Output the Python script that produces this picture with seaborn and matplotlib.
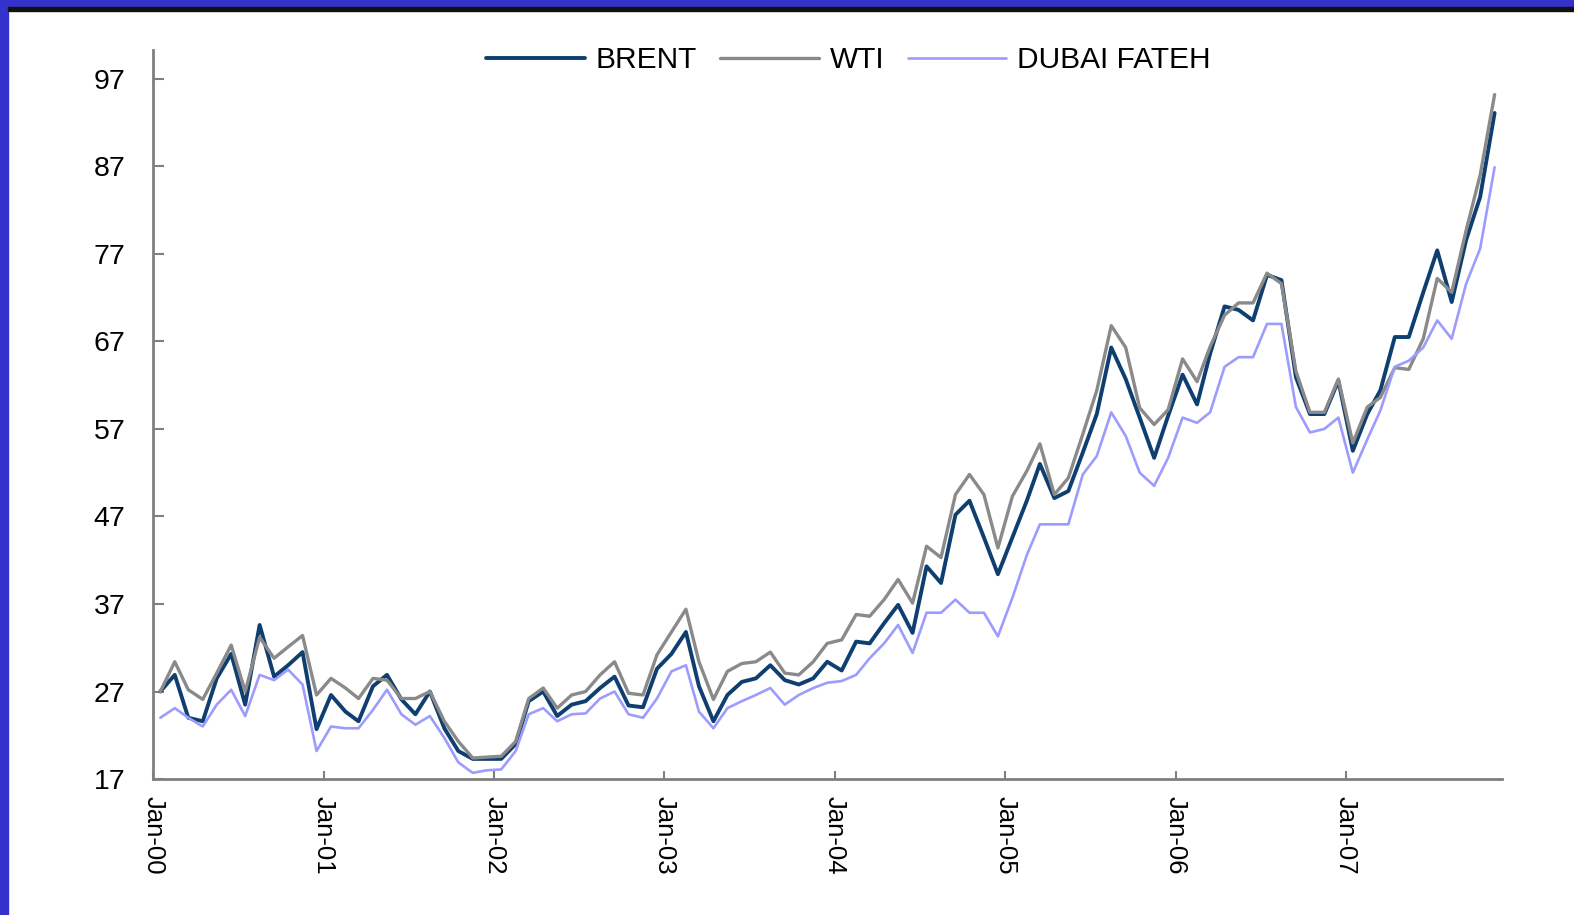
import pandas as pd
import numpy as np
import matplotlib.pyplot as plt
import matplotlib.dates as mdates
from matplotlib.patches import Rectangle
import seaborn as sns

# monthly prices, Jan-2000 .. Nov-2007
months = pd.date_range('2000-01-01', periods=95, freq='MS') + pd.Timedelta(days=15)

brent = [27.0, 28.9, 24.0, 23.6, 28.5, 31.3, 25.5, 34.6, 28.7, 30.0, 31.5, 22.7,
         26.6, 24.7, 23.6, 27.6, 28.9, 26.1, 24.4, 27.0, 22.8, 20.2, 19.3, 19.3,
         19.3, 21.0, 25.9, 27.0, 24.2, 25.5, 25.9, 27.4, 28.7, 25.4, 25.2, 29.6,
         31.3, 33.8, 27.6, 23.6, 26.6, 28.1, 28.5, 30.0, 28.3, 27.8, 28.5, 30.4,
         29.4, 32.7, 32.5, 34.8, 36.9, 33.7, 41.3, 39.4, 47.2, 48.8, 44.6, 40.4,
         44.6, 48.8, 53.0, 49.1, 49.9, 54.3, 58.7, 66.3, 62.7, 58.3, 53.7, 58.5,
         63.2, 59.8, 65.6, 71.0, 70.6, 69.4, 74.6, 74.0, 62.9, 58.7, 58.7, 62.5,
         54.5, 58.7, 61.4, 67.5, 67.5, 72.6, 77.4, 71.5, 78.6, 83.5, 93.1]

wti = [27.0, 30.4, 27.2, 26.1, 29.1, 32.3, 27.0, 33.2, 30.8, 32.1, 33.4, 26.6,
       28.5, 27.4, 26.2, 28.5, 28.3, 26.2, 26.2, 27.0, 23.6, 21.3, 19.4, 19.5,
       19.6, 21.3, 26.2, 27.4, 25.1, 26.6, 27.0, 28.9, 30.4, 26.8, 26.6, 31.2,
       33.8, 36.4, 30.4, 26.1, 29.3, 30.2, 30.4, 31.5, 29.1, 28.9, 30.4, 32.5,
       32.9, 35.8, 35.6, 37.5, 39.8, 37.1, 43.6, 42.3, 49.5, 51.8, 49.5, 43.4,
       49.3, 52.2, 55.3, 49.5, 51.4, 56.4, 61.4, 68.8, 66.3, 59.4, 57.5, 59.2,
       65.0, 62.4, 66.4, 70.0, 71.4, 71.4, 74.8, 73.6, 63.6, 58.9, 58.9, 62.7,
       55.4, 59.5, 60.6, 64.0, 63.8, 67.3, 74.2, 72.6, 79.7, 86.0, 95.2]

dubai = [24.0, 25.1, 24.0, 23.0, 25.5, 27.2, 24.2, 28.9, 28.3, 29.5, 27.8, 20.2,
         23.0, 22.8, 22.8, 24.9, 27.2, 24.4, 23.2, 24.2, 21.7, 18.9, 17.7, 18.0,
         18.1, 20.2, 24.4, 25.1, 23.6, 24.4, 24.5, 26.2, 27.0, 24.4, 24.0, 26.2,
         29.3, 30.0, 24.7, 22.8, 25.1, 25.9, 26.6, 27.4, 25.5, 26.6, 27.4, 28.0,
         28.2, 28.9, 30.8, 32.5, 34.6, 31.4, 36.0, 36.0, 37.5, 36.0, 36.0, 33.3,
         37.7, 42.6, 46.1, 46.1, 46.1, 51.8, 53.9, 58.9, 56.2, 52.0, 50.5, 53.7,
         58.3, 57.7, 58.9, 64.1, 65.2, 65.2, 69.0, 69.0, 59.5, 56.6, 57.0, 58.3,
         52.0, 55.8, 59.1, 64.1, 64.8, 66.3, 69.4, 67.3, 73.6, 77.6, 86.9]

series_names = ['BRENT', 'WTI', 'DUBAI FATEH']
colors = {'BRENT': '#0E3F70', 'WTI': '#8A8A8A', 'DUBAI FATEH': '#9C9CFF'}
widths = {'BRENT': 2.8, 'WTI': 2.4, 'DUBAI FATEH': 1.9}
yticks = [17, 27, 37, 47, 57, 67, 77, 87, 97]

df = pd.DataFrame({'Month': months, 'BRENT': brent, 'WTI': wti, 'DUBAI FATEH': dubai})
df_long = df.melt(id_vars='Month', var_name='Crude', value_name='Price')

sns.set_theme(style="white")
plt.rcParams['font.family'] = ['Liberation Sans', 'DejaVu Sans']
plt.rcParams['text.color'] = 'black'
plt.rcParams['xtick.labelcolor'] = 'black'
plt.rcParams['ytick.labelcolor'] = 'black'

fig = plt.figure(figsize=(15.74, 9.15), dpi=100)
ax = fig.add_axes([0.0974, 0.1486, 0.8566, 0.7968])

for name in series_names:
    sns.lineplot(data=df_long[df_long['Crude'] == name], x='Month', y='Price',
                 color=colors[name], linewidth=widths[name], label=name, ax=ax)

ax.set_xlim(pd.Timestamp('2000-01-01'), pd.Timestamp('2007-12-01'))
ax.set_ylim(17, 100.3)
ax.set_yticks(yticks)
ax.set_yticklabels([str(v) for v in yticks])
ax.xaxis.set_major_locator(mdates.YearLocator())
ax.xaxis.set_major_formatter(mdates.DateFormatter('%b-%y'))
ax.set_xlabel('')
ax.set_ylabel('')

for side in ['top', 'right']:
    ax.spines[side].set_visible(False)
for side in ['left', 'bottom']:
    ax.spines[side].set_color('#7F7F7F')
    ax.spines[side].set_linewidth(2)

ax.tick_params(axis='y', direction='in', length=8, width=1.5, color='#7F7F7F',
               labelsize=20.5, pad=20, left=True, labelcolor='black')
ax.tick_params(axis='x', direction='in', length=6, width=1.5, color='#7F7F7F',
               labelsize=18.5, pad=12, bottom=True, labelrotation=-90, labelcolor='black')
for lbl in ax.get_xticklabels():
    lbl.set_ha('center')
    lbl.set_va('top')

leg = ax.legend(loc='center', bbox_to_anchor=(0.539, 0.934), bbox_transform=fig.transFigure,
                ncol=3, frameon=False, fontsize=21.5, handlelength=3.3, handletextpad=0.35,
                columnspacing=0.8)
for t in leg.get_texts():
    t.set_color('black')

# blue frame on the left and top, black rule under the top band
fig.patches.append(Rectangle((0, 0), 0.0051, 1, transform=fig.transFigure,
                             color='#3333CC', zorder=0))
fig.patches.append(Rectangle((0, 1 - 7 / 915), 1, 7 / 915, transform=fig.transFigure,
                             color='#3333CC', zorder=0))
fig.patches.append(Rectangle((0.0051, 1 - 11 / 915), 1, 4 / 915, transform=fig.transFigure,
                             color='#111111', zorder=0))

fig.savefig('out.png', dpi=100, facecolor='white')
plt.close()
